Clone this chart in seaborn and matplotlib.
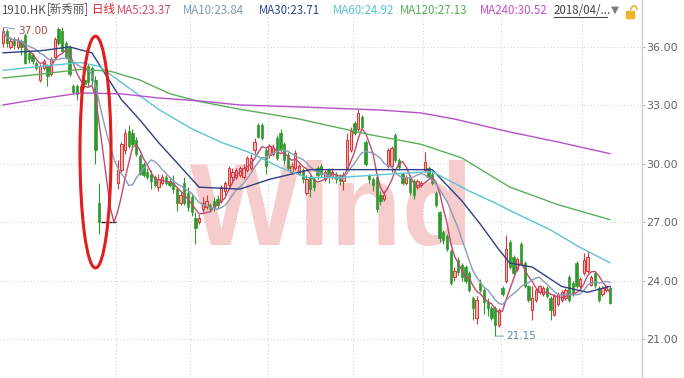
import numpy as np
import pandas as pd
import matplotlib
matplotlib.use("Agg")
import matplotlib.pyplot as plt
import seaborn as sns
from matplotlib.patches import Ellipse, Rectangle, Arc
from matplotlib.lines import Line2D

# ---------------- data ----------------
open_ = [36.2, 36.8, 36.0, 36.4, 36.0, 36.3, 36.6, 35.7, 35.6, 35.2,
         34.3, 34.9, 35.0, 34.6, 35.5, 36.9, 36.8, 36.2, 36.0, 34.0,
         34.0, 33.7, 34.3, 35.0, 34.9, 34.3, 28.0, 27.0, 27.0, 27.0,
         27.0, 29.0, 29.7, 30.7, 31.7, 31.6, 31.2, 30.4, 30.0, 29.6,
         29.5, 29.3, 28.8, 29.0, 29.3, 29.1, 29.0, 28.7, 28.0, 29.0,
         28.5, 28.3, 27.2, 27.0, 27.7, 27.8, 27.9, 28.1, 28.2, 28.1,
         28.6, 28.9, 29.3, 29.3, 29.4, 29.3, 29.7, 29.8, 30.7, 32.0,
         32.0, 30.7, 30.45, 30.5, 31.3, 31.6, 31.0, 30.45, 29.6, 29.8,
         29.5, 29.7, 28.5, 29.3, 29.2, 29.8, 29.9, 29.2, 29.7, 29.3,
         29.5, 29.4, 29.1, 29.8, 30.7, 32.1, 31.8, 32.4, 31.1, 29.4,
         29.2, 29.3, 28.4, 28.2, 29.9, 29.9, 31.5, 30.2, 29.5, 29.0,
         29.3, 29.1, 28.8, 28.9, 29.7, 29.8, 29.5, 28.5, 27.5, 26.5,
         26.3, 25.5, 24.2, 25.05, 24.8, 24.7, 24.4, 23.1, 22.1, 23.9,
         23.5, 22.9, 22.6, 22.6, 21.7, 23.6, 24.0, 26.0, 25.2, 24.6,
         25.9, 24.9, 23.7, 22.5, 23.0, 23.4, 23.3, 23.6, 23.1, 22.25,
         22.8, 23.0, 23.1, 24.2, 23.9, 24.9, 23.7, 24.4, 24.5, 23.8,
         24.4, 23.6, 23.3, 23.5, 23.6]
high = [37.0, 36.9, 36.5, 36.5, 36.5, 36.4, 36.7, 35.8, 35.7, 35.3,
        35.1, 35.4, 35.1, 35.5, 36.5, 37.0, 37.0, 36.3, 36.1, 34.1,
        34.1, 34.1, 34.5, 35.1, 35.0, 34.5, 29.0, 27.0, 27.0, 27.0,
        27.0, 30.2, 31.1, 31.8, 32.0, 31.8, 31.4, 30.5, 30.1, 29.8,
        29.7, 29.4, 29.5, 29.5, 29.4, 29.3, 29.4, 28.8, 28.6, 29.3,
        28.8, 28.5, 27.5, 27.4, 28.3, 28.4, 28.0, 28.3, 28.4, 28.9,
        29.1, 29.9, 29.8, 29.8, 29.9, 30.0, 30.4, 30.5, 31.3, 32.1,
        32.1, 30.8, 31.0, 31.0, 31.5, 31.8, 31.1, 30.6, 30.1, 30.7,
        30.0, 29.8, 29.4, 29.4, 29.3, 29.9, 30.0, 29.7, 29.8, 29.8,
        29.6, 29.5, 29.6, 31.6, 31.9, 32.2, 32.8, 32.5, 31.2, 29.5,
        29.3, 29.4, 28.6, 28.6, 30.8, 30.9, 31.6, 30.3, 29.6, 29.4,
        29.4, 29.2, 29.2, 29.1, 30.6, 29.9, 29.6, 28.6, 27.6, 26.6,
        26.4, 25.6, 24.7, 25.2, 24.9, 24.8, 24.5, 23.2, 23.2, 24.1,
        23.6, 23.1, 22.7, 22.7, 22.6, 23.7, 26.35, 26.1, 25.3, 25.2,
        26.0, 25.0, 23.8, 23.7, 23.6, 23.8, 23.7, 23.7, 23.2, 23.3,
        23.4, 23.5, 23.6, 24.3, 24.0, 25.0, 24.2, 25.4, 25.5, 24.3,
        24.5, 23.7, 23.7, 23.8, 23.7]
low = [36.0, 36.0, 35.9, 35.9, 35.9, 35.6, 35.1, 35.2, 35.1, 34.8,
       34.2, 34.8, 34.0, 34.5, 35.4, 36.1, 35.7, 35.4, 34.5, 33.6,
       33.3, 33.6, 33.9, 34.0, 34.1, 30.0, 26.4, 27.0, 27.0, 27.0,
       27.0, 28.7, 29.6, 30.5, 30.8, 30.9, 30.4, 29.4, 29.3, 29.2,
       28.7, 28.8, 28.6, 28.9, 28.9, 28.8, 28.5, 27.6, 27.9, 27.9,
       27.6, 27.3, 25.9, 26.9, 27.5, 27.7, 27.5, 27.6, 27.7, 28.0,
       28.4, 28.8, 29.1, 29.2, 29.3, 29.2, 29.6, 29.7, 30.5, 31.3,
       31.2, 29.5, 30.3, 30.4, 30.2, 30.6, 30.0, 29.7, 29.5, 29.7,
       29.4, 29.0, 28.4, 28.3, 28.6, 29.2, 29.3, 29.1, 29.0, 29.2,
       29.0, 28.9, 28.65, 29.7, 30.6, 31.5, 31.7, 31.8, 29.9, 29.0,
       28.6, 27.5, 27.9, 28.1, 29.8, 29.6, 30.1, 29.7, 28.9, 28.9,
       28.4, 28.2, 28.7, 28.8, 29.6, 29.2, 28.9, 27.8, 26.0, 25.9,
       25.5, 23.8, 24.0, 24.3, 24.0, 23.9, 23.4, 22.0, 21.75, 23.4,
       22.3, 22.2, 22.0, 21.15, 21.6, 23.2, 23.9, 24.6, 24.3, 24.5,
       24.8, 23.6, 22.9, 22.0, 22.9, 23.3, 23.2, 23.1, 22.0, 22.2,
       22.7, 22.9, 23.0, 22.9, 23.2, 23.6, 23.6, 24.3, 24.4, 23.7,
       23.6, 22.9, 23.2, 23.4, 22.8]
close = [36.8, 36.2, 36.3, 36.1, 36.3, 36.0, 35.2, 35.4, 35.3, 34.9,
         35.0, 35.3, 34.5, 35.4, 36.4, 36.2, 35.8, 35.5, 34.6, 33.7,
         33.6, 34.0, 34.1, 34.2, 34.3, 30.7, 27.0, 27.0, 27.0, 27.0,
         27.0, 29.7, 31.0, 31.6, 30.9, 31.0, 30.5, 29.5, 29.4, 29.3,
         29.1, 28.9, 29.2, 29.3, 29.0, 28.9, 28.7, 28.0, 28.4, 28.0,
         27.8, 27.5, 26.7, 27.2, 28.0, 28.1, 27.7, 27.8, 27.9, 28.8,
         29.0, 29.8, 29.6, 29.7, 29.8, 29.8, 30.3, 30.3, 31.1, 31.4,
         31.3, 29.9, 30.9, 30.8, 30.3, 30.7, 30.2, 29.8, 29.9, 30.55,
         29.9, 29.2, 29.2, 28.7, 28.8, 29.4, 29.5, 29.6, 29.3, 29.6,
         29.2, 29.1, 29.4, 31.2, 31.7, 31.6, 32.6, 31.9, 30.0, 29.2,
         28.9, 27.7, 28.1, 28.4, 30.7, 30.8, 30.2, 29.85, 29.0, 29.3,
         28.55, 28.4, 29.1, 29.0, 30.1, 29.3, 29.0, 27.9, 26.2, 26.1,
         25.6, 23.9, 24.5, 24.45, 24.2, 24.0, 23.5, 22.6, 23.0, 23.5,
         22.9, 22.6, 22.1, 21.7, 22.5, 23.3, 25.6, 24.7, 24.4, 25.1,
         24.9, 23.7, 23.0, 23.1, 23.5, 23.7, 23.6, 23.2, 22.5, 23.2,
         23.3, 23.4, 23.5, 23.0, 23.3, 23.7, 24.1, 25.05, 25.2, 24.2,
         23.8, 23.0, 23.6, 23.7, 22.85]

# moving averages (candle index, value)
ma30_i = [0, 10, 18, 24, 32, 37, 42, 53, 64, 72, 83, 94, 102, 116, 124, 129, 134, 137, 143, 151, 158, 164]
ma30_v = [35.7, 35.8, 36.0, 35.7, 33.3, 32.25, 31.1, 28.8, 28.7, 29.2, 29.7, 29.7, 29.7, 29.7, 28.1, 26.9, 25.6, 24.9, 24.7, 23.7, 23.4, 23.71]
ma60_i = [0, 10, 21, 26, 34, 42, 51, 59, 67, 75, 82, 91, 99, 107, 116, 126, 134, 137, 148, 156, 164]
ma60_v = [34.8, 35.0, 35.2, 35.0, 33.9, 32.8, 31.8, 31.1, 30.55, 29.8, 29.3, 29.3, 29.4, 29.5, 29.6, 28.6, 27.9, 27.6, 26.6, 25.7, 24.92]
ma120_i = [0, 10, 21, 29, 37, 45, 53, 64, 80, 99, 113, 124, 137, 150, 164]
ma120_v = [34.4, 34.6, 34.85, 34.75, 34.3, 33.6, 33.2, 32.8, 32.3, 31.5, 31.0, 30.3, 28.8, 27.9, 27.13]
ma240_i = [0, 10, 21, 32, 42, 53, 64, 80, 102, 113, 122, 137, 150, 164]
ma240_v = [33.02, 33.33, 33.64, 33.59, 33.38, 33.23, 33.02, 32.92, 32.76, 32.61, 32.3, 31.63, 31.12, 30.52]

month_breaks = [30.5, 50.5, 71.5, 94.5, 113.5, 134.5, 156.5]
yticks = [21, 24, 27, 30, 33, 36]

# ---------------- figure ----------------
W, H = 684, 378
fig = plt.figure(figsize=(W / 100, H / 100), dpi=100)
fig.patch.set_facecolor("white")
ax = fig.add_axes([0, 0, 642 / W, 1])
ax.set_facecolor("white")
ax.set_xlim(-0.81, 172.7)
ax.set_ylim(19.0, 38.41)

df = pd.DataFrame({"o": open_, "h": high, "l": low, "c": close})
df["i"] = np.arange(len(df))
df["ma5"] = df["c"].rolling(5, min_periods=1).mean()
df["ma10"] = df["c"].rolling(10, min_periods=1).mean()

# grid
gcol = "#d4d4d4"
for y in yticks:
    ax.axhline(y, color=gcol, lw=0.8, ls=(0, (1, 2)), zorder=0)
for m in month_breaks:
    ax.axvline(m, color=gcol, lw=0.8, ls=(0, (1, 2)), zorder=0)

# watermark
ax.text(88.9, 25.85, "Wind", fontsize=84, fontweight="bold", color="#f6cccc",
        family=["Liberation Sans", "DejaVu Sans"], ha="center", va="baseline", zorder=0.5)

# candles
up = df[df.c > df.o]
dn = df[df.c < df.o]
fl = df[df.c == df.o]
red_e, red_f, grn = "#d93535", "#f3b3b3", "#2e9a2e"
bw = 0.62
ax.vlines(up.i, up.l, up.h, color=red_e, lw=0.8, zorder=2)
ax.vlines(dn.i, dn.l, dn.h, color=grn, lw=0.8, zorder=2)
ax.bar(up.i, up.c - up.o, bottom=up.o, width=bw, color=red_f, edgecolor=red_e, lw=0.7, zorder=2.1)
ax.bar(dn.i, dn.o - dn.c, bottom=dn.c, width=bw, color=grn, edgecolor=grn, lw=0.5, zorder=2.1)
ax.hlines(fl.c, fl.i - 0.45, fl.i + 0.45, color="#222222", lw=1.0, zorder=2.1)

# moving averages
c5, c10, c30, c60, c120, c240 = "#c24a72", "#8a9cb8", "#2f3f80", "#5cc4d2", "#5aae5a", "#b452c6"
sns.lineplot(x=df.i, y=df.ma5, ax=ax, color=c5, lw=1.0, zorder=3)
sns.lineplot(x=df.i, y=df.ma10, ax=ax, color=c10, lw=1.0, zorder=3)
sns.lineplot(x=ma30_i, y=ma30_v, ax=ax, color=c30, lw=1.0, zorder=3)
sns.lineplot(x=ma60_i, y=ma60_v, ax=ax, color=c60, lw=1.0, zorder=3)
sns.lineplot(x=ma120_i, y=ma120_v, ax=ax, color=c120, lw=1.0, zorder=3)
sns.lineplot(x=ma240_i, y=ma240_v, ax=ax, color=c240, lw=1.0, zorder=3)

# high / low annotations
imax = int(np.argmax(high[:5]))
ax.annotate("37.00", xy=(imax + 0.3, high[imax]), xytext=(4.0, 36.8), fontsize=7.5,
            color="#a04848", va="center", ha="left",
            arrowprops=dict(arrowstyle="-", color="#8aa0b8", lw=0.7, shrinkA=0, shrinkB=0))
imin = int(np.argmin(low))
ax.annotate("21.15", xy=(imin, low[imin]), xytext=(imin + 3.0, low[imin]), fontsize=7.5,
            color="#5f86a0", va="center", ha="left",
            arrowprops=dict(arrowstyle="-", color="#8aa8b8", lw=0.8, shrinkA=0, shrinkB=0))

# red ellipse highlight
ax.add_patch(Ellipse((25.0, 30.6), 8.4, 11.9, fill=False, edgecolor="#e11d1d", lw=2.2, zorder=4))

# axes styling
for s in ["top", "left", "bottom"]:
    ax.spines[s].set_visible(False)
ax.spines["right"].set_color("#cfcfcf")
ax.spines["right"].set_linewidth(1.0)
ax.yaxis.tick_right()
ax.set_yticks(yticks)
ax.set_yticklabels([f"{v:.2f}" for v in yticks])
ax.tick_params(axis="y", length=2, color="#bbbbbb", labelsize=8, labelcolor="#666666", pad=1)
ax.set_xticks([])
ax.set_xlabel("")
ax.set_ylabel("")

# header
fam = ["Noto Sans CJK SC", "DejaVu Sans"]
hy = 1 - 10 / H
items = [(1, "1910.HK", "#555555"), (47, "[新秀丽]", "#555555"), (92, "日线", "#e0242c"),
         (117, "MA5:23.37", "#d04a6e"), (183, "MA10:23.84", "#7f98b6"), (259, "MA30:23.71", "#2f4488"),
         (333, "MA60:24.92", "#55c2d0"), (400, "MA120:27.13", "#55ae55"), (480, "MA240:30.52", "#c050c8"),
         (554, "2018/04/...", "#444444")]
for x, t, c in items:
    fig.text(x / W, hy, t, fontsize=8.3, color=c, family=fam, va="center", ha="left")
fig.add_artist(Line2D([554 / W, 607 / W], [1 - 17 / H, 1 - 17 / H], color="#444444", lw=0.8))
fig.text(614.5 / W, hy, "▼", fontsize=7.5, color="#7a7a7a", family=["DejaVu Sans"], va="center", ha="center")
fig.add_artist(Rectangle((626 / W, 1 - 18 / H), 8 / W, 7 / H, color="#f0b22a", transform=fig.transFigure))
fig.add_artist(Arc((634 / W, 1 - 10 / H), 6 / W, 8 / H, theta1=0, theta2=180, color="#f0b22a",
                   lw=1.2, transform=fig.transFigure))

fig.savefig("out.png", dpi=100, facecolor="white")
